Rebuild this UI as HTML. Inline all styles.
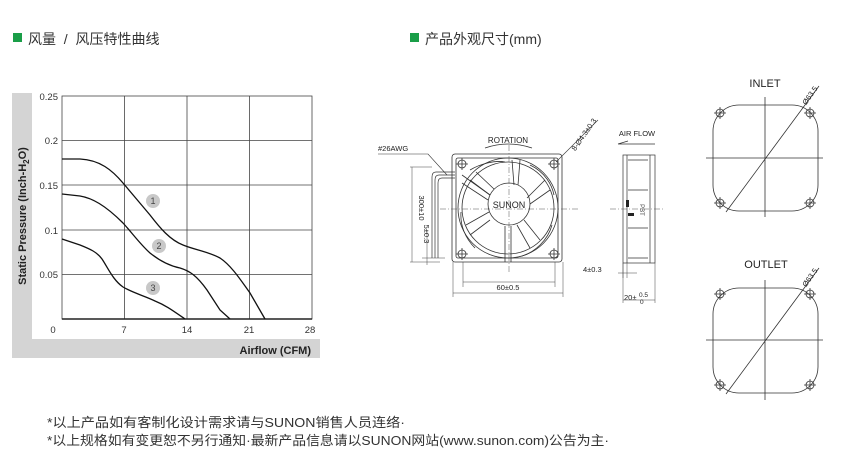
<!DOCTYPE html>
<html><head><meta charset="utf-8"><style>
html,body{margin:0;padding:0;background:#fff;}
svg{display:block;font-family:"Liberation Sans","Noto Sans CJK SC",sans-serif;}
</style></head><body>
<svg width="854" height="463" viewBox="0 0 854 463" xmlns="http://www.w3.org/2000/svg">
<!-- headings -->
<rect x="13" y="33" width="9" height="9" fill="#1a9e48"/>
<text x="28" y="44" font-size="14" fill="#333" xml:space="preserve">风量  /  风压特性曲线</text>
<rect x="410" y="33" width="9" height="9" fill="#1a9e48"/>
<text x="425" y="44" font-size="14" fill="#333">产品外观尺寸(mm)</text>

<!-- chart background -->
<rect x="12" y="93" width="20" height="265" fill="#d4d4d4"/>
<rect x="12" y="339" width="308" height="19" fill="#d4d4d4"/>
<text x="311" y="354" font-size="11" font-weight="bold" text-anchor="end" fill="#222">Airflow (CFM)</text>
<text transform="translate(26,216) rotate(-90)" font-size="11" font-weight="bold" text-anchor="middle" fill="#222">Static Pressure (Inch-H<tspan font-size="8" dy="3">2</tspan><tspan dy="-3">O)</tspan></text>
<g stroke="#444" stroke-width="0.8" fill="none">
<rect x="62" y="96" width="250" height="223"/>
<line x1="124.5" y1="96" x2="124.5" y2="319"/>
<line x1="187" y1="96" x2="187" y2="319"/>
<line x1="249.5" y1="96" x2="249.5" y2="319"/>
<line x1="62" y1="140.6" x2="312" y2="140.6"/>
<line x1="62" y1="185" x2="312" y2="185"/>
<line x1="62" y1="230" x2="312" y2="230"/>
<line x1="62" y1="274.4" x2="312" y2="274.4"/>
</g>
<line x1="62" y1="319" x2="312" y2="319" stroke="#222" stroke-width="1.5"/>
<g font-size="9.5" fill="#333" text-anchor="end">
<text x="58" y="100">0.25</text><text x="58" y="144">0.2</text><text x="58" y="189">0.15</text>
<text x="58" y="234">0.1</text><text x="58" y="278">0.05</text>
</g>
<g font-size="9.5" fill="#333" text-anchor="middle">
<text x="53" y="333">0</text><text x="124" y="333">7</text><text x="187" y="333">14</text><text x="249" y="333">21</text><text x="310" y="333">28</text>
</g>
<g stroke="#111" stroke-width="1.3" fill="none">
<path d="M62,159 L80,159 C100,160 112,170 123,183 C133,195 140,203 150,215 C160,228 170,240 183,245 C195,250 207,251 220,258 C232,266 242,282 250,293 L265,319"/>
<path d="M62,194 L80,196 C92,198 105,205 123,223 C133,234 140,244 150,253 C160,261 170,266 180,268 C190,271 197,276 207,290 L220,310 L230,319"/>
<path d="M62,239 L80,245 C90,249 97,252 102,259 C108,268 113,280 123,287 C133,293 145,296 155,301 C165,305 172,310 185,319"/>
</g>
<g fill="#c8c8c8"><circle cx="153" cy="201" r="7"/><circle cx="159" cy="246" r="7"/><circle cx="153" cy="288" r="7"/></g>
<g font-size="9" fill="#444" text-anchor="middle"><text x="153" y="204">1</text><text x="159" y="249">2</text><text x="153" y="291">3</text></g>

<!-- fan front view -->
<g stroke="#333" stroke-width="0.8" fill="none">
<rect x="452" y="154" width="110" height="108" rx="3"/>
<rect x="456" y="158" width="102" height="100" rx="2"/>
<circle cx="508" cy="208" r="50"/>
<circle cx="508" cy="208" r="46"/>
<circle cx="509" cy="204" r="21"/>
<circle cx="462" cy="164" r="4"/><circle cx="554" cy="164" r="4"/><circle cx="462" cy="254" r="4"/><circle cx="554" cy="254" r="4"/>
<path d="M456,164h12M462,158v12M548,164h12M554,158v12M456,254h12M462,248v12M548,254h12M554,248v12"/>
<path d="M512,160 L514,185 M520,160 L518,185 M545,180 L527,198 M550,190 L530,204 M540,240 L524,220 M530,248 L517,225 M470,235 L490,220 M466,225 L489,212 M470,180 L490,195 M476,172 L494,189"/>
<path d="M505,226 L505,262 M511,226 L511,262"/>
<path d="M462,175 L490,195 M462,183 L488,200"/>
<path d="M470,170 C480,164 495,160 505,162 M530,165 C545,172 552,185 554,195 M552,225 C548,240 535,252 522,256 M475,248 C465,238 460,225 461,212"/>
</g>
<text x="509" y="208" font-size="9" text-anchor="middle" fill="#222">SUNON</text>
<g stroke="#555" stroke-width="0.5" stroke-dasharray="6,2,1,2" fill="none">
<line x1="440" y1="209" x2="578" y2="209"/><line x1="509" y1="145" x2="509" y2="272"/>
</g>
<!-- rotation -->
<path d="M485,148 Q508,140 532,148" stroke="#333" stroke-width="0.7" fill="none"/>
<text x="508" y="143" font-size="8" text-anchor="middle" fill="#222">ROTATION</text>
<text transform="translate(586,136) rotate(-55)" font-size="7.5" text-anchor="middle" fill="#222">8-Ø4.3±0.3</text>
<line x1="556" y1="162" x2="598" y2="120" stroke="#333" stroke-width="0.6"/>
<!-- wires -->
<text x="378" y="151" font-size="7.5" fill="#222">#26AWG</text>
<path d="M378,154 L428,154 L447,175" stroke="#333" stroke-width="0.6" fill="none"/>
<path d="M455,172 L436,172 Q432,172 432,177 L432,258 M455,175 L439,175 Q435,175 435,180 L435,258 M455,178 L442,178 Q438,178 438,183 L438,258" stroke="#333" stroke-width="0.7" fill="none"/>
<path d="M412,167 L412,262 M410,167 L432,167 M410,262 L440,262 M427,230 L427,265 M422,258 L445,258" stroke="#444" stroke-width="0.5" fill="none"/>
<text transform="translate(419,208) rotate(90)" font-size="7.5" text-anchor="middle" fill="#222">300±10</text>
<text transform="translate(424,234) rotate(90)" font-size="7.5" text-anchor="middle" fill="#222">5±0.3</text>
<!-- 60 dims -->
<g stroke="#444" stroke-width="0.5" fill="none">
<path d="M463,262 L463,287 M555,262 L555,287 M463,282 L555,282 M453,262 L453,297 M563,262 L563,297 M453,293 L563,293"/>
</g>
<text x="508" y="290" font-size="7.5" text-anchor="middle" fill="#222">60±0.5</text>
<!-- side view -->
<text x="637" y="136" font-size="7.5" text-anchor="middle" fill="#222">AIR FLOW</text>
<path d="M618,144 L655,144 M618,144 L628,141" stroke="#333" stroke-width="0.7" fill="none"/>
<g stroke="#333" stroke-width="0.7" fill="none">
<rect x="623" y="155" width="32" height="108"/>
<line x1="627" y1="155" x2="627" y2="263"/>
<line x1="650" y1="155" x2="650" y2="263"/>
<path d="M628,160 L648,160 M628,190 L648,190 M628,228 L648,228 M628,258 L648,258"/>
</g>
<rect x="626" y="200" width="3" height="7" fill="#222"/><rect x="628" y="213" width="6" height="3" fill="#222"/>
<text transform="translate(640,210) rotate(90)" font-size="6" text-anchor="middle" fill="#444">PBT</text>
<path d="M610,209 L665,209" stroke="#555" stroke-width="0.5" stroke-dasharray="6,2,1,2"/>
<path d="M618,273 L637,273 M623,263 L623,278 M627,263 L627,278 M623,263 L623,303 M655,263 L655,303 M623,300 L655,300" stroke="#444" stroke-width="0.5" fill="none"/>
<text x="583" y="272" font-size="7.5" fill="#222">4±0.3</text>
<text x="624" y="300" font-size="7.5" fill="#222">20±</text><text x="639" y="297" font-size="6.5" fill="#222">0.5</text><text x="640" y="304" font-size="6.5" fill="#222">0</text>

<!-- inlet -->
<text x="765" y="87" font-size="11" text-anchor="middle" fill="#222">INLET</text>
<g stroke="#333" stroke-width="0.8" fill="none">
<rect x="713" y="105" width="105" height="106" rx="26"/>
<path d="M706,158 L823,158 M765,97 L765,217 M726,212 L819,86"/>
<circle cx="720" cy="113" r="4"/><circle cx="810" cy="113" r="4"/><circle cx="720" cy="203" r="4"/><circle cx="810" cy="203" r="4"/>
<path d="M714,113h12M720,107v12M804,113h12M810,107v12M714,203h12M720,197v12M804,203h12M810,197v12"/>
</g>
<text transform="translate(812,97) rotate(-55)" font-size="7.5" text-anchor="middle" fill="#222">Ø63.5</text>
<!-- outlet -->
<text x="766" y="268" font-size="11" text-anchor="middle" fill="#222">OUTLET</text>
<g stroke="#333" stroke-width="0.8" fill="none">
<rect x="713" y="288" width="105" height="105" rx="26"/>
<path d="M706,340 L823,340 M765,280 L765,400 M726,394 L819,268"/>
<circle cx="720" cy="294" r="4"/><circle cx="810" cy="294" r="4"/><circle cx="720" cy="385" r="4"/><circle cx="810" cy="385" r="4"/>
<path d="M714,294h12M720,288v12M804,294h12M810,288v12M714,385h12M720,379v12M804,385h12M810,379v12"/>
</g>
<text transform="translate(812,279) rotate(-55)" font-size="7.5" text-anchor="middle" fill="#222">Ø63.5</text>

<!-- footer -->
<text x="47" y="427" font-size="13" fill="#333" textLength="358" lengthAdjust="spacingAndGlyphs">*以上产品如有客制化设计需求请与SUNON销售人员连络·</text>
<text x="47" y="445" font-size="13" fill="#333" textLength="562" lengthAdjust="spacingAndGlyphs">*以上规格如有变更恕不另行通知·最新产品信息请以SUNON网站(www.sunon.com)公告为主·</text>
</svg>
</body></html>
